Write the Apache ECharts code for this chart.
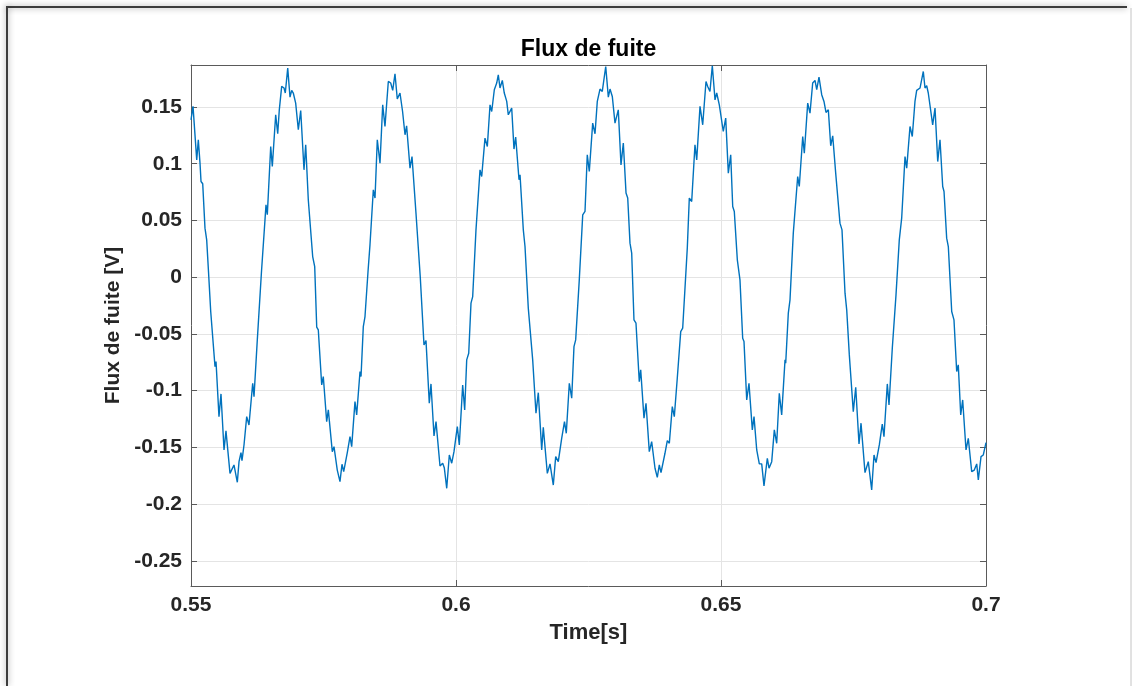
<!DOCTYPE html>
<html>
<head>
<meta charset="utf-8">
<title>Flux de fuite</title>
<script src="https://cdn.jsdelivr.net/npm/echarts@6/dist/echarts.min.js"></script>
<style>
  html, body { margin: 0; padding: 0; background: #ffffff; }
  #chart { width: 1132px; height: 686px; }
</style>
</head>
<body>
<div id="chart"></div>
<script>
// Leakage flux signal: sample times (s) and measured values (V)
const timeS = [
  0.55000, 0.55038, 0.55108, 0.55138, 0.55170, 0.55189, 0.55221, 0.55264, 0.55296, 0.55330,
  0.55372, 0.55391, 0.55453, 0.55472, 0.55528, 0.55566, 0.55623, 0.55660, 0.55736, 0.55811,
  0.55874, 0.55906, 0.55943, 0.55962, 0.56000, 0.56051, 0.56094, 0.56164, 0.56189, 0.56251,
  0.56277, 0.56330, 0.56396, 0.56415, 0.56440, 0.56504, 0.56534, 0.56598, 0.56636, 0.56666,
  0.56711, 0.56755, 0.56779, 0.56825, 0.56868, 0.56900, 0.56930, 0.56975, 0.57025, 0.57070,
  0.57132, 0.57164, 0.57213, 0.57245, 0.57296, 0.57334, 0.57372, 0.57402, 0.57466, 0.57496,
  0.57560, 0.57591, 0.57666, 0.57698, 0.57760, 0.57811, 0.57849, 0.57881, 0.57949, 0.58000,
  0.58032, 0.58094, 0.58126, 0.58189, 0.58208, 0.58251, 0.58283, 0.58340, 0.58377, 0.58440,
  0.58472, 0.58515, 0.58566, 0.58617, 0.58660, 0.58723, 0.58768, 0.58806, 0.58849, 0.58892,
  0.58943, 0.58992, 0.59038, 0.59068, 0.59132, 0.59170, 0.59245, 0.59270, 0.59326, 0.59396,
  0.59434, 0.59496, 0.59528, 0.59585, 0.59623, 0.59698, 0.59749, 0.59779, 0.59825, 0.59874,
  0.59919, 0.59962, 0.60025, 0.60062, 0.60126, 0.60164, 0.60202, 0.60240, 0.60283, 0.60315,
  0.60377, 0.60402, 0.60453, 0.60485, 0.60547, 0.60591, 0.60642, 0.60674, 0.60723, 0.60768,
  0.60798, 0.60830, 0.60874, 0.60911, 0.60957, 0.60987, 0.61051, 0.61094, 0.61126, 0.61189,
  0.61208, 0.61270, 0.61302, 0.61364, 0.61396, 0.61447, 0.61509, 0.61553, 0.61617, 0.61647,
  0.61723, 0.61774, 0.61836, 0.61881, 0.61930, 0.61994, 0.62047, 0.62081, 0.62138, 0.62183,
  0.62226, 0.62258, 0.62326, 0.62391, 0.62434, 0.62477, 0.62515, 0.62579, 0.62623, 0.62666,
  0.62717, 0.62760, 0.62825, 0.62874, 0.62906, 0.62949, 0.63000, 0.63062, 0.63113, 0.63157,
  0.63208, 0.63240, 0.63283, 0.63315, 0.63358, 0.63396, 0.63458, 0.63485, 0.63547, 0.63585,
  0.63647, 0.63692, 0.63755, 0.63798, 0.63836, 0.63868, 0.63943, 0.63987, 0.64025, 0.64081,
  0.64119, 0.64175, 0.64194, 0.64240, 0.64277, 0.64364, 0.64402, 0.64447, 0.64509, 0.64542,
  0.64604, 0.64655, 0.64717, 0.64749, 0.64792, 0.64836, 0.64887, 0.64919, 0.64968, 0.65043,
  0.65089, 0.65138, 0.65183, 0.65221, 0.65251, 0.65308, 0.65358, 0.65409, 0.65434, 0.65485,
  0.65528, 0.65591, 0.65623, 0.65674, 0.65723, 0.65768, 0.65811, 0.65874, 0.65906, 0.65957,
  0.66006, 0.66051, 0.66100, 0.66145, 0.66208, 0.66221, 0.66270, 0.66302, 0.66364, 0.66396,
  0.66447, 0.66477, 0.66542, 0.66572, 0.66636, 0.66679, 0.66730, 0.66774, 0.66806, 0.66849,
  0.66900, 0.66943, 0.66981, 0.67025, 0.67070, 0.67108, 0.67164, 0.67194, 0.67245, 0.67283,
  0.67340, 0.67372, 0.67421, 0.67447, 0.67496, 0.67542, 0.67604, 0.67642, 0.67717, 0.67779,
  0.67843, 0.67887, 0.67925, 0.67987, 0.68043, 0.68075, 0.68138, 0.68170, 0.68232, 0.68251,
  0.68302, 0.68364, 0.68409, 0.68428, 0.68472, 0.68504, 0.68566, 0.68609, 0.68660, 0.68692,
  0.68755, 0.68787, 0.68817, 0.68849, 0.68881, 0.68911, 0.68943, 0.68994, 0.69038, 0.69089,
  0.69132, 0.69183, 0.69208, 0.69258, 0.69289, 0.69353, 0.69396, 0.69447, 0.69477, 0.69523,
  0.69560, 0.69623, 0.69666, 0.69730, 0.69779, 0.69825, 0.69855, 0.69906, 0.69949, 0.70000
];

const fluxV = [
  0.1387, 0.1505, 0.1034, 0.1210, 0.1005, 0.0843, 0.0823, 0.0432, 0.0329, 0.0050,
  -0.0303, -0.0312, -0.0788, -0.0744, -0.1229, -0.1029, -0.1523, -0.1355, -0.1729, -0.1655,
  -0.1808, -0.1626, -0.1547, -0.1617, -0.1479, -0.1229, -0.1303, -0.0935, -0.1053, -0.0553,
  -0.0538, 0.0050, 0.0505, 0.0638, 0.0550, 0.1152, 0.0975, 0.1431, 0.1264, 0.1475,
  0.1681, 0.1667, 0.1623, 0.1843, 0.1587, 0.1646, 0.1623, 0.1534, 0.1299, 0.1469,
  0.0946, 0.1167, 0.0682, 0.0667, 0.0182, 0.0093, -0.0441, -0.0465, -0.0950, -0.0876,
  -0.1273, -0.1170, -0.1538, -0.1494, -0.1700, -0.1802, -0.1649, -0.1714, -0.1547, -0.1406,
  -0.1494, -0.1097, -0.1214, -0.0832, -0.0876, -0.0436, -0.0347, 0.0050, 0.0285, 0.0770,
  0.0697, 0.1211, 0.1005, 0.1519, 0.1328, 0.1725, 0.1711, 0.1646, 0.1793, 0.1570,
  0.1623, 0.1460, 0.1255, 0.1334, 0.0961, 0.1063, 0.0564, 0.0549, 0.0000, -0.0597,
  -0.0559, -0.1111, -0.0941, -0.1400, -0.1273, -0.1664, -0.1640, -0.1679, -0.1861, -0.1567,
  -0.1640, -0.1538, -0.1317, -0.1479, -0.0950, -0.1170, -0.0729, -0.0670, -0.0229, -0.0171,
  0.0417, 0.0432, 0.0946, 0.0887, 0.1226, 0.1152, 0.1519, 0.1460, 0.1652, 0.1711,
  0.1784, 0.1667, 0.1734, 0.1623, 0.1549, 0.1431, 0.1490, 0.1129, 0.1235, 0.0858,
  0.0902, 0.0417, 0.0270, -0.0273, -0.0288, -0.0729, -0.1199, -0.1018, -0.1523, -0.1323,
  -0.1729, -0.1646, -0.1832, -0.1582, -0.1626, -0.1420, -0.1273, -0.1376, -0.0935, -0.1067,
  -0.0612, -0.0553, -0.0024, 0.0549, 0.0579, 0.1079, 0.0931, 0.1358, 0.1264, 0.1549,
  0.1658, 0.1637, 0.1857, 0.1587, 0.1658, 0.1593, 0.1358, 0.1475, 0.0990, 0.1182,
  0.0741, 0.0697, 0.0300, 0.0212, -0.0377, -0.0406, -0.0921, -0.0817, -0.1243, -0.1111,
  -0.1538, -0.1450, -0.1684, -0.1764, -0.1655, -0.1723, -0.1552, -0.1441, -0.1464, -0.1141,
  -0.1229, -0.0891, -0.0906, -0.0480, -0.0450, 0.0256, 0.0697, 0.0667, 0.1167, 0.1034,
  0.1505, 0.1343, 0.1725, 0.1681, 0.1637, 0.1863, 0.1563, 0.1623, 0.1519, 0.1284,
  0.1402, 0.0917, 0.1078, 0.0623, 0.0579, 0.0153, -0.0024, -0.0538, -0.0568, -0.1082,
  -0.0935, -0.1346, -0.1229, -0.1523, -0.1646, -0.1646, -0.1840, -0.1596, -0.1684, -0.1626,
  -0.1346, -0.1464, -0.1023, -0.1214, -0.0729, -0.0758, -0.0317, -0.0200, 0.0388, 0.0402,
  0.0887, 0.0799, 0.1240, 0.1093, 0.1534, 0.1446, 0.1711, 0.1734, 0.1652, 0.1764,
  0.1608, 0.1549, 0.1452, 0.1475, 0.1158, 0.1246, 0.0917, 0.0931, 0.0476, 0.0417,
  -0.0141, -0.0288, -0.0685, -0.0670, -0.1185, -0.0970, -0.1470, -0.1287, -0.1723, -0.1626,
  -0.1876, -0.1567, -0.1635, -0.1479, -0.1294, -0.1406, -0.0941, -0.1126, -0.0626, -0.0635,
  -0.0156, 0.0329, 0.0520, 0.0505, 0.1063, 0.0961, 0.1328, 0.1240, 0.1549, 0.1646,
  0.1667, 0.1681, 0.1813, 0.1667, 0.1687, 0.1623, 0.1637, 0.1343, 0.1490, 0.1019,
  0.1211, 0.0799, 0.0755, 0.0344, 0.0270, -0.0303, -0.0377, -0.0832, -0.0773, -0.1214,
  -0.1082, -0.1523, -0.1420, -0.1714, -0.1700, -0.1646, -0.1787, -0.1582, -0.1567, -0.1458
];

// Axis limits and tick spacing
const xRange = [0.55, 0.70];
const xStep = 0.05;
const yRange = [-0.2722, 0.1870];
const yStep = 0.05;

const titleText = 'Flux de fuite';
const xName = 'Time[s]';
const yName = 'Flux de fuite [V]';

const FONT = '"Liberation Sans", Arial, Helvetica, sans-serif';
const INK = '#262626';
const AXIS = '#5a5a5a';
const GRID = '#e4e4e4';
const LINE = '#0072BD';

const seriesData = timeS.map((t, i) => [t, fluxV[i]]);
const fmt = v => String(parseFloat(Number(v).toFixed(3)));

const plot = { left: 191, right: 146, top: 65, bottom: 100 };

const baseX = {
  type: 'value',
  min: xRange[0],
  max: xRange[1],
  interval: xStep,
  axisLine: { show: true, onZero: false, lineStyle: { color: AXIS, width: 1 } },
  axisTick: { show: true, inside: true, length: 6, lineStyle: { color: AXIS, width: 1 } }
};
const baseY = {
  type: 'value',
  min: yRange[0],
  max: yRange[1],
  splitNumber: 9,
  minInterval: yStep,
  maxInterval: yStep,
  axisLine: { show: true, onZero: false, lineStyle: { color: AXIS, width: 1 } },
  axisTick: { show: true, inside: true, length: 6, lineStyle: { color: AXIS, width: 1 } }
};

const chart = echarts.init(document.getElementById('chart'), null, { renderer: 'canvas' });

chart.setOption({
  animation: false,
  backgroundColor: '#ffffff',
  textStyle: { fontFamily: FONT },
  title: {
    text: titleText,
    left: 588.5,
    textAlign: 'center',
    top: 38,
    padding: 0,
    textStyle: { fontFamily: FONT, fontSize: 23, fontWeight: 'bold', color: '#000000' }
  },
  grid: { left: plot.left, right: plot.right, top: plot.top, bottom: plot.bottom, containLabel: false },
  xAxis: [
    Object.assign({}, baseX, {
      position: 'bottom',
      name: xName,
      nameLocation: 'middle',
      nameGap: 36,
      nameTextStyle: { fontFamily: FONT, fontSize: 22, fontWeight: 'bold', color: INK },
      axisLabel: { show: true, margin: 9, fontFamily: FONT, fontSize: 21, fontWeight: 'bold', color: INK, formatter: fmt },
      splitLine: { show: true, lineStyle: { color: GRID, width: 1 } }
    }),
    Object.assign({}, baseX, {
      position: 'top',
      axisLabel: { show: false },
      splitLine: { show: false }
    })
  ],
  yAxis: [
    Object.assign({}, baseY, {
      position: 'left',
      name: yName,
      nameLocation: 'middle',
      nameGap: 56,
      nameTextStyle: { fontFamily: FONT, fontSize: 21, fontWeight: 'bold', color: INK },
      axisLabel: { show: true, margin: 9, showMinLabel: false, showMaxLabel: false, fontFamily: FONT, fontSize: 21, fontWeight: 'bold', color: INK, formatter: fmt },
      splitLine: { show: true, lineStyle: { color: GRID, width: 1 } }
    }),
    Object.assign({}, baseY, {
      position: 'right',
      axisLabel: { show: false },
      splitLine: { show: false }
    })
  ],
  series: [{
    type: 'line',
    xAxisIndex: 0,
    yAxisIndex: 0,
    data: seriesData,
    showSymbol: false,
    symbol: 'none',
    clip: true,
    lineStyle: { color: LINE, width: 1.4 },
    z: 5
  }],
  graphic: [
    // window frame edges
    { type: 'line', shape: { x1: 6, y1: 7, x2: 1127, y2: 7 }, style: { stroke: '#3c3c3c', lineWidth: 2, shadowBlur: 6, shadowColor: 'rgba(0,0,0,0.45)' }, z: 100 },
    { type: 'line', shape: { x1: 7, y1: 6, x2: 7, y2: 686 }, style: { stroke: '#3c3c3c', lineWidth: 2, shadowBlur: 6, shadowColor: 'rgba(0,0,0,0.45)' }, z: 100 },
    { type: 'line', shape: { x1: 1131, y1: 8, x2: 1131, y2: 686 }, style: { stroke: '#c4c4c4', lineWidth: 1 }, z: 100 }
  ]
});
</script>
</body>
</html>
